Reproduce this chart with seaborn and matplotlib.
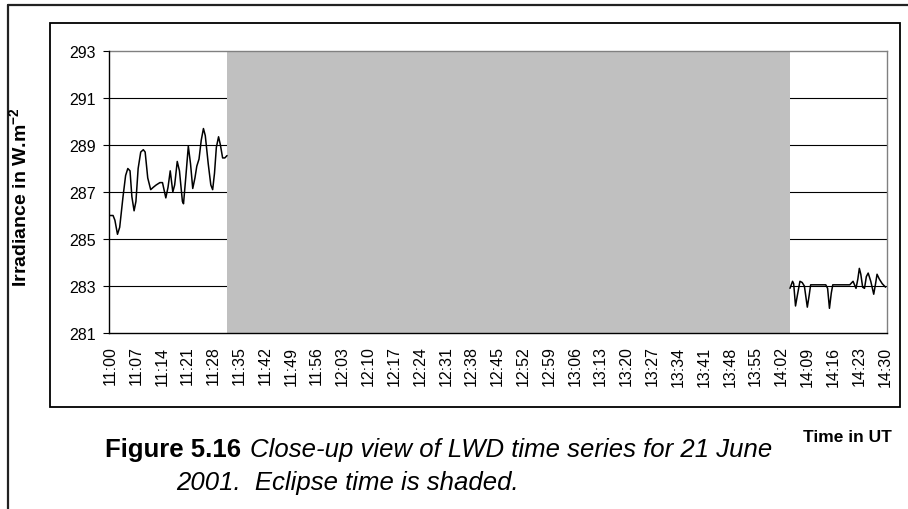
import matplotlib
matplotlib.use("Agg")
import matplotlib.pyplot as plt
import seaborn as sns
import pandas as pd
from matplotlib.patches import Rectangle
from matplotlib.lines import Line2D

# ---------------- data (minutes after 11:00 UT, irradiance W m-2) ----------------
before_minutes = [0.0, 0.8, 1.3, 2.0, 2.6, 3.5, 4.2, 4.8, 5.4, 5.9, 6.5, 7.0, 7.6, 8.3,
                  9.0, 9.5, 10.2, 11.0, 11.7, 12.5, 13.5, 14.2, 15.1, 15.7, 16.3, 17.0,
                  17.5, 18.2, 18.8, 19.6, 19.9, 20.5, 21.2, 21.8, 22.4, 23.0, 23.5, 24.1,
                  24.7, 25.3, 25.8, 26.6, 27.3, 27.8, 28.3, 28.8, 29.4, 29.9, 30.5, 31.1,
                  31.7]
before_values = [286.0, 286.0, 285.8, 285.2, 285.5, 286.8, 287.7, 288.0, 287.9, 286.8,
                 286.2, 286.6, 288.0, 288.7, 288.8, 288.7, 287.6, 287.1, 287.2, 287.3,
                 287.4, 287.4, 286.75, 287.2, 287.9, 287.0, 287.3, 288.3, 287.9, 286.6,
                 286.5, 287.6, 288.95, 288.2, 287.15, 287.6, 288.1, 288.4, 289.2, 289.7,
                 289.4, 288.2, 287.3, 287.1, 287.8, 288.9, 289.35, 289.0, 288.45, 288.45,
                 288.55]

after_minutes = [184.3, 185.0, 185.3, 185.8, 186.3, 187.0, 187.6, 188.2, 189.0, 189.5,
                 189.9, 191.0, 192.5, 194.0, 194.5, 195.0, 195.5, 195.9, 198.0, 200.5,
                 201.4, 202.2, 202.7, 203.1, 203.5, 204.0, 204.5, 205.0, 205.5, 206.2,
                 207.0, 207.5, 207.9, 208.5, 209.3, 210.2]
after_values = [282.9, 283.2, 283.1, 282.15, 282.6, 283.2, 283.15, 283.0, 282.1, 282.6,
                283.05, 283.05, 283.05, 283.05, 282.9, 282.05, 282.7, 283.05, 283.05,
                283.05, 283.2, 282.9, 283.3, 283.75, 283.5, 282.95, 282.9, 283.4, 283.55,
                283.2, 282.65, 283.1, 283.5, 283.3, 283.1, 282.95]

eclipse_start = 31.7   # minutes after 11:00
eclipse_end = 184.3

tick_minutes = [0, 7, 14, 21, 28, 35, 42, 49, 56, 63, 70, 77, 84, 91, 98, 105, 112, 119,
                126, 133, 140, 147, 154, 161, 168, 175, 182, 189, 196, 203, 210]
tick_labels = ["11:00", "11:07", "11:14", "11:21", "11:28", "11:35", "11:42", "11:49",
               "11:56", "12:03", "12:10", "12:17", "12:24", "12:31", "12:38", "12:45",
               "12:52", "12:59", "13:06", "13:13", "13:20", "13:27", "13:34", "13:41",
               "13:48", "13:55", "14:02", "14:09", "14:16", "14:23", "14:30"]
y_ticks = [281, 283, 285, 287, 289, 291, 293]

# ---------------- style ----------------
sns.set_theme(style="white")
plt.rcParams['font.family'] = ['Liberation Sans', 'DejaVu Sans']
plt.rcParams['mathtext.fontset'] = 'custom'
plt.rcParams['mathtext.rm'] = 'Liberation Sans'
plt.rcParams['mathtext.bf'] = 'Liberation Sans:bold'
for k in ['text.color', 'axes.labelcolor', 'xtick.color', 'ytick.color']:
    plt.rcParams[k] = 'black'

W, H = 908, 510
fig = plt.figure(figsize=(W / 100, H / 100), dpi=100)
fig.patch.set_facecolor('white')

def fx(px):
    return px / W

def fy(py):
    return 1 - py / H

# outer frame (left and top edges visible)
fig.add_artist(Line2D([fx(8), fx(8)], [fy(6), 0], color='#222222', lw=1.6,
                      transform=fig.transFigure))
fig.add_artist(Line2D([fx(8), 1.0], [fy(6), fy(6)], color='#222222', lw=1.6,
                      transform=fig.transFigure))
# chart box
fig.add_artist(Rectangle((fx(50), fy(408)), fx(900) - fx(50), fy(24) - fy(408),
                         fill=False, ec='black', lw=1.3, transform=fig.transFigure))

ax = fig.add_axes([fx(109), fy(334), fx(887) - fx(109), fy(52) - fy(334)])
ax.set_facecolor('white')

df_before = pd.DataFrame({"minute": before_minutes, "value": before_values})
df_after = pd.DataFrame({"minute": after_minutes, "value": after_values})

for yv in y_ticks[1:-1]:
    ax.axhline(yv, color='black', lw=0.8, zorder=1)

ax.axvspan(eclipse_start, eclipse_end, color='#c0c0c0', lw=0, zorder=2)

sns.lineplot(data=df_before, x="minute", y="value", ax=ax, color='black', lw=1.1,
             zorder=3, estimator=None, sort=False)
sns.lineplot(data=df_after, x="minute", y="value", ax=ax, color='black', lw=1.1,
             zorder=3, estimator=None, sort=False)

ax.set_xlim(-0.3, 210.6)
ax.set_ylim(281, 293)
ax.set_xticks(tick_minutes)
ax.set_xticklabels(tick_labels, rotation=90, fontsize=11.5)
ax.set_yticks(y_ticks)
ax.set_yticklabels([str(v) for v in y_ticks], fontsize=11.5)
ax.tick_params(axis='x', length=0, pad=9, colors='black')
ax.tick_params(axis='y', length=4.5, width=0.8, pad=5, direction='out', left=True,
               colors='black')
ax.set_xlabel("")
ax.set_ylabel("")

for s in ['left', 'bottom']:
    ax.spines[s].set_color('black')
    ax.spines[s].set_linewidth(1.0)
for s in ['top', 'right']:
    ax.spines[s].set_color('#808080')
    ax.spines[s].set_linewidth(1.0)
ax.spines['left'].set_zorder(4)
ax.spines['bottom'].set_zorder(4)

fig.text(fx(20), fy(197), r'Irradiance in W.m$^{\mathbf{-2}}$', rotation=90,
         ha='center', va='center', fontsize=14, fontweight='bold')
fig.text(fx(803), fy(442), 'Time in UT', fontsize=12.5, fontweight='bold',
         ha='left', va='baseline')
fig.text(fx(105), fy(457), 'Figure 5.16', fontsize=18.5, fontweight='bold',
         ha='left', va='baseline')
fig.text(fx(250), fy(457), 'Close-up view of LWD time series for 21 June', fontsize=18.5,
         fontstyle='italic', ha='left', va='baseline')
fig.text(fx(176), fy(490), '2001.  Eclipse time is shaded.', fontsize=18.5,
         fontstyle='italic', ha='left', va='baseline')

fig.savefig('out.png', dpi=100, facecolor='white')
